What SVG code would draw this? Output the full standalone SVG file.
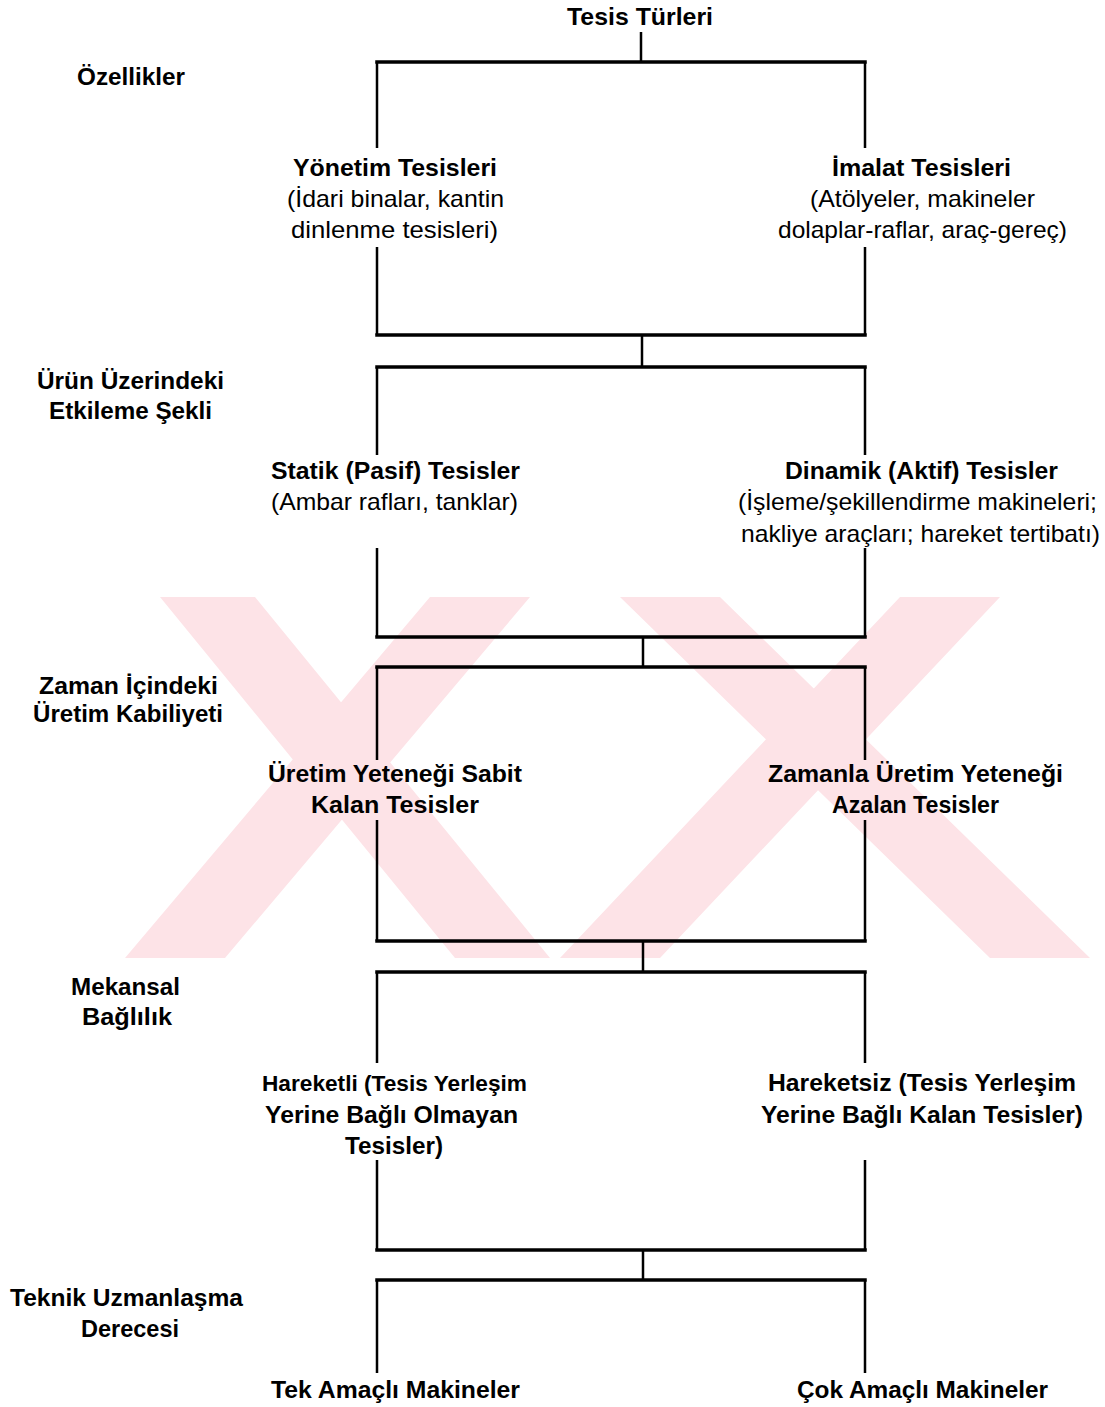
<svg xmlns="http://www.w3.org/2000/svg" width="1105" height="1407" viewBox="0 0 1105 1407">
  <style>
    text { fill: #000; text-anchor: middle; font-size: 24px; }
    .b { font-family: "Liberation Sans", Arial, sans-serif; font-weight: bold; }
    .r { font-family: "Liberation Sans", Arial, sans-serif; font-weight: normal; }
    .nb { font-family: "Liberation Sans Narrow", "Liberation Sans", Arial, sans-serif; font-weight: bold; }
    .nr { font-family: "Liberation Sans Narrow", "Liberation Sans", Arial, sans-serif; font-weight: normal; }
    .h { stroke: #000; stroke-width: 3.5; fill: none; stroke-linecap: square; }
    .v { stroke: #000; stroke-width: 2.5; fill: none; stroke-linecap: butt; }
    .wm { fill: #fde3e7; }
  </style>

  <rect width="1105" height="1407" fill="#fff"/>

  <!-- faint background emblem -->
  <g id="watermark">
    <path class="wm" d="M160,597 L255,597 L550,958 L455,958 Z M430,597 L530,597 L225,958 L125,958 Z M620,597 L720,597 L1090,958 L990,958 Z M900,597 L1000,597 L660,958 L560,958 Z"/>
  </g>

  <!-- connectors -->
  <g id="connectors">
    <line class="v" x1="641" y1="32" x2="641" y2="62"/>
    <!-- level 1 -->
    <path class="h" d="M377,62 H865"/>
    <path class="v" d="M377,62 V148 M377,247 V335 M865,62 V148 M865,247 V335"/>
    <path class="h" d="M377,335 H865"/>
    <line class="v" x1="642" y1="335" x2="642" y2="367"/>
    <!-- level 2 -->
    <path class="h" d="M377,367 H865"/>
    <path class="v" d="M377,367 V455 M377,548 V637 M865,367 V455 M865,548 V637"/>
    <path class="h" d="M377,637 H865"/>
    <line class="v" x1="643" y1="637" x2="643" y2="667"/>
    <!-- level 3 -->
    <path class="h" d="M377,667 H865"/>
    <path class="v" d="M377,667 V760 M377,820 V941 M865,667 V760 M865,820 V941"/>
    <path class="h" d="M377,941 H865"/>
    <line class="v" x1="643" y1="941" x2="643" y2="972"/>
    <!-- level 4 -->
    <path class="h" d="M377,972 H865"/>
    <path class="v" d="M377,972 V1063 M377,1160 V1250 M865,972 V1063 M865,1160 V1250"/>
    <path class="h" d="M377,1250 H865"/>
    <line class="v" x1="643" y1="1250" x2="643" y2="1280"/>
    <!-- level 5 -->
    <path class="h" d="M377,1280 H865"/>
    <path class="v" d="M377,1280 V1373 M865,1280 V1373"/>
  </g>

  <!-- root -->
  <g id="tesis-turleri">
    <text class="b" x="640" y="25" textLength="146" lengthAdjust="spacingAndGlyphs">Tesis Türleri</text>
  </g>

  <!-- criteria column -->
  <g id="kriter-ozellikler">
    <text class="b" x="131" y="85" textLength="108" lengthAdjust="spacingAndGlyphs">Özellikler</text>
  </g>
  <g id="kriter-etkileme">
    <text class="b" x="130.5" y="389" textLength="187" lengthAdjust="spacingAndGlyphs">Ürün Üzerindeki</text>
    <text class="b" x="130.5" y="419" textLength="163" lengthAdjust="spacingAndGlyphs">Etkileme Şekli</text>
  </g>
  <g id="kriter-zaman">
    <text class="nb" x="128.5" y="694" textLength="179" lengthAdjust="spacingAndGlyphs">Zaman İçindeki</text>
    <text class="nb" x="128" y="722" textLength="190" lengthAdjust="spacingAndGlyphs">Üretim Kabiliyeti</text>
  </g>
  <g id="kriter-mekansal">
    <text class="b" x="125.5" y="995" textLength="109" lengthAdjust="spacingAndGlyphs">Mekansal</text>
    <text class="b" x="127" y="1025" textLength="90" lengthAdjust="spacingAndGlyphs">Bağlılık</text>
  </g>
  <g id="kriter-uzmanlasma">
    <text class="nb" x="126.5" y="1306" textLength="233" lengthAdjust="spacingAndGlyphs">Teknik Uzmanlaşma</text>
    <text class="nb" x="130" y="1337" textLength="98" lengthAdjust="spacingAndGlyphs">Derecesi</text>
  </g>

  <!-- level 1 -->
  <g id="yonetim-tesisleri">
    <text class="b" x="395" y="176" textLength="204" lengthAdjust="spacingAndGlyphs">Yönetim Tesisleri</text>
    <text class="r" x="395.5" y="207" textLength="217" lengthAdjust="spacingAndGlyphs">(İdari binalar, kantin</text>
    <text class="r" x="394.5" y="238" textLength="207" lengthAdjust="spacingAndGlyphs">dinlenme tesisleri)</text>
  </g>
  <g id="imalat-tesisleri">
    <text class="b" x="921.5" y="176" textLength="179" lengthAdjust="spacingAndGlyphs">İmalat Tesisleri</text>
    <text class="r" x="922.5" y="207" textLength="225" lengthAdjust="spacingAndGlyphs">(Atölyeler, makineler</text>
    <text class="r" x="922.5" y="238" textLength="289" lengthAdjust="spacingAndGlyphs">dolaplar-raflar, araç-gereç)</text>
  </g>

  <!-- level 2 -->
  <g id="statik-tesisler">
    <text class="nb" x="395.5" y="479" textLength="249" lengthAdjust="spacingAndGlyphs">Statik (Pasif) Tesisler</text>
    <text class="nr" x="394.5" y="510" textLength="247" lengthAdjust="spacingAndGlyphs">(Ambar rafları, tanklar)</text>
  </g>
  <g id="dinamik-tesisler">
    <text class="nb" x="921.5" y="479" textLength="273" lengthAdjust="spacingAndGlyphs">Dinamik (Aktif) Tesisler</text>
    <text class="nr" x="917.5" y="510" textLength="359" lengthAdjust="spacingAndGlyphs">(İşleme/şekillendirme makineleri;</text>
    <text class="nr" x="920.5" y="542" textLength="359" lengthAdjust="spacingAndGlyphs">nakliye araçları; hareket tertibatı)</text>
  </g>

  <!-- level 3 -->
  <g id="sabit-kalan">
    <text class="nb" x="395" y="782" textLength="254" lengthAdjust="spacingAndGlyphs">Üretim Yeteneği Sabit</text>
    <text class="nb" x="395" y="813" textLength="168" lengthAdjust="spacingAndGlyphs">Kalan Tesisler</text>
  </g>
  <g id="azalan">
    <text class="nb" x="915.5" y="782" textLength="295" lengthAdjust="spacingAndGlyphs">Zamanla Üretim Yeteneği</text>
    <text class="nb" x="915.5" y="813" textLength="167" lengthAdjust="spacingAndGlyphs">Azalan Tesisler</text>
  </g>

  <!-- level 4 -->
  <g id="hareketli">
    <text class="b" x="394.5" y="1091" textLength="265" lengthAdjust="spacingAndGlyphs" style="font-size:22px">Hareketli (Tesis Yerleşim</text>
    <text class="b" x="391.5" y="1123" textLength="253" lengthAdjust="spacingAndGlyphs">Yerine Bağlı Olmayan</text>
    <text class="b" x="394" y="1154" textLength="98" lengthAdjust="spacingAndGlyphs">Tesisler)</text>
  </g>
  <g id="hareketsiz">
    <text class="b" x="922" y="1091" textLength="308" lengthAdjust="spacingAndGlyphs">Hareketsiz (Tesis Yerleşim</text>
    <text class="b" x="922" y="1123" textLength="322" lengthAdjust="spacingAndGlyphs">Yerine Bağlı Kalan Tesisler)</text>
  </g>

  <!-- level 5 -->
  <g id="tek-amacli">
    <text class="nb" x="395.5" y="1398" textLength="249" lengthAdjust="spacingAndGlyphs">Tek Amaçlı Makineler</text>
  </g>
  <g id="cok-amacli">
    <text class="nb" x="922.5" y="1398" textLength="251" lengthAdjust="spacingAndGlyphs">Çok Amaçlı Makineler</text>
  </g>
</svg>
